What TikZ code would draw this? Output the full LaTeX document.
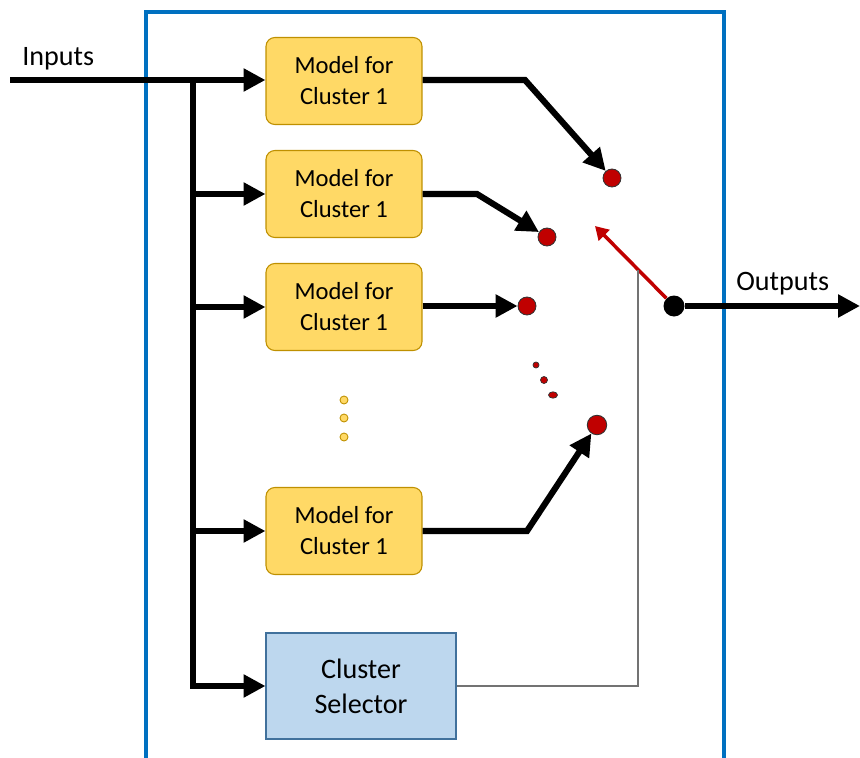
\documentclass[tikz,border=0pt]{standalone}
\usepackage{fontspec}
\setmainfont{Carlito}
\usepackage{xcolor}
\usetikzlibrary{arrows.meta,calc}
\definecolor{frameblue}{HTML}{0070C0}
\definecolor{modelfill}{HTML}{FFD966}
\definecolor{modeledge}{HTML}{BF9000}
\definecolor{selfill}{HTML}{BDD7EE}
\definecolor{seledge}{HTML}{41719C}
\definecolor{portred}{HTML}{C00000}

\begin{document}
\begin{tikzpicture}[x=0.02cm,y=-0.02cm,
    model/.style={draw=modeledge,line width=0.6pt,fill=modelfill,rounded corners=5pt,
      minimum width=3.12cm,minimum height=1.74cm,align=center,
      font=\fontsize{14}{17.6}\selectfont},
    selbox/.style={draw=seledge,line width=0.6pt,fill=selfill,
      minimum width=3.8cm,minimum height=2.12cm,align=center,
      font=\fontsize{16}{19.8}\selectfont},
    port/.style={circle,draw=black!80,line width=0.5pt,fill=portred,inner sep=0pt,minimum size=0.36cm},
    bus/.style={line width=3.5pt,-{Triangle[length=12.5pt,width=12.5pt]}},
    wire/.style={line width=3.5pt},
    lbl/.style={font=\fontsize{16}{19}\selectfont,inner sep=0pt}]
  \useasboundingbox (0,0) rectangle (860,758);
  % frame, open at the bottom
  \draw[frameblue,line width=2pt] (146,758) -- (146,12) -- (724,12) -- (724,758);

  % models and selector
  \node[model] (m1) at (344,81) {Model for\\Cluster 1};
  \node[model] (m2) at (344,194) {Model for\\Cluster 1};
  \node[model] (m3) at (344,307) {Model for\\Cluster 1};
  \node[model] (m4) at (344,531) {Model for\\Cluster 1};
  \node[selbox] (sel) at (361,686) {Cluster\\Selector};
  \foreach \yy in {400,418,437}
    \filldraw[fill=modelfill,draw=modeledge,line width=0.5pt] (344,\yy) circle (4);

  % inputs
  \coordinate (in) at (10,80);
  \coordinate (split) at (193,80);
  \node[lbl,anchor=base west] (inlbl) at (22,65) {Inputs};
  \draw[bus] (in) -- (m1.west |- in);
  \draw[wire] (split) -- (split |- m4);
  \draw[bus] (split |- m2) -- (m2);
  \draw[bus] (split |- m3) -- (m3);
  \draw[bus] (split |- m4) -- (m4);
  \draw[bus] (split) -- (split |- sel) -- (sel);

  % switch contacts
  \node[port] (p1) at (612,178) {};
  \node[port] (p2) at (547,237) {};
  \node[port] (p3) at (527,306) {};
  \node[port,minimum size=0.39cm] (p4) at (597,425) {};
  \fill[portred,draw=black!80,line width=0.4pt] (536,365) circle (3);
  \fill[portred,draw=black!80,line width=0.4pt] (544,380) circle (3.5);
  \fill[portred,draw=black!80,line width=0.4pt] (553,395) ellipse (4.5 and 3.2);
  \draw[bus] (m1.east |- in) -- (525,80) -- (p1);
  \draw[bus] (m2.east) -- (477,194) -- (p2);
  \draw[bus] (m3.east |- p3) -- (p3);
  \draw[bus] (m4.east) -- (527,531) -- (p4);

  % output side
  \node[circle,fill=black,inner sep=0pt,minimum size=0.42cm] (hub) at (674,306) {};
  \coordinate (arm) at (595,226);
  \coordinate (out) at (860,306);
  \coordinate (tap) at ($(hub)!0.456!(arm)$);
  \draw[portred,line width=2pt,-{Triangle[length=7.5pt,width=8.5pt]}] (hub) -- (arm);
  \draw[bus] (hub) -- (out);
  \node[lbl,anchor=base west] (outlbl) at (736,290) {Outputs};
  \draw[black!55,line width=0.6pt] (sel.east) -| (tap);
\end{tikzpicture}
\end{document}
